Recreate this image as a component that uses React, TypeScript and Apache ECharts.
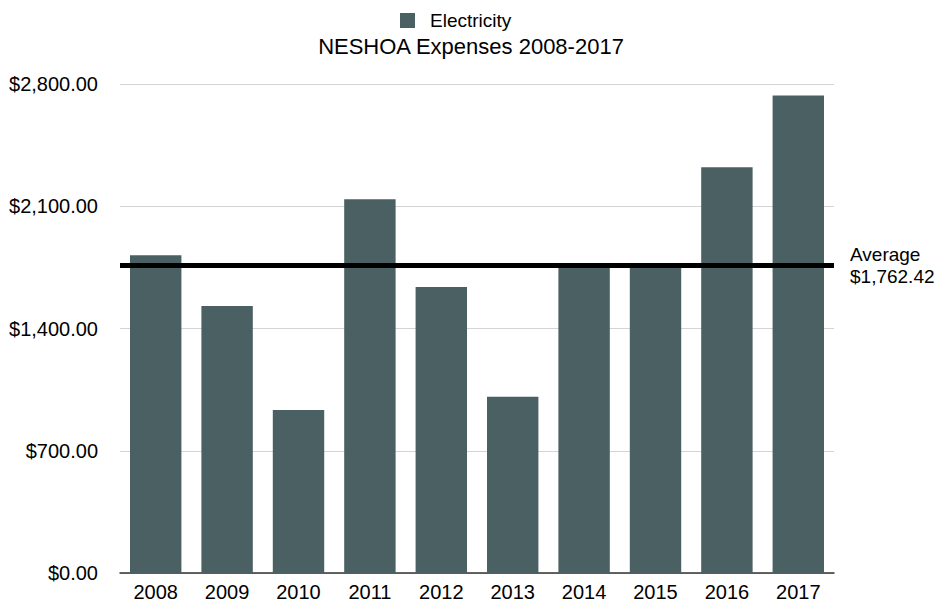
import React, { useEffect, useRef } from "react";
import * as echarts from "echarts";

const years = ["2008", "2009", "2010", "2011", "2012", "2013", "2014", "2015", "2016", "2017"];
const electricity = [1820, 1529, 934, 2140, 1637, 1009, 1750, 1748, 2323, 2734];
const averageValue = 1762.42;
const yTicks = { min: 0, max: 2800, interval: 700 };

const FONT = "'Liberation Sans', Arial, Helvetica, sans-serif";

function money(v: number): string {
  return "$" + v.toLocaleString("en-US", { minimumFractionDigits: 2, maximumFractionDigits: 2 });
}

export default function App() {
  const ref = useRef<HTMLDivElement>(null);
  useEffect(() => {
    if (!ref.current) return;
    const chart = echarts.init(ref.current, undefined, { renderer: "svg" });
    chart.setOption({
      animation: false,
      backgroundColor: "#ffffff",
      textStyle: { fontFamily: FONT },
      legend: {
        top: 6,
        left: 395,
        icon: "rect",
        itemWidth: 15,
        itemHeight: 15,
        itemGap: 10,
        textStyle: { fontSize: 19, color: "#000", fontFamily: FONT, padding: [0, 0, 0, 10] },
        data: ["Electricity"],
      },
      title: {
        text: "NESHOA Expenses 2008-2017",
        left: "center",
        top: 30,
        textStyle: { fontSize: 22, fontWeight: "normal", color: "#000", fontFamily: FONT },
      },
      grid: { left: 120, right: 108, top: 84, bottom: 34, containLabel: false },
      xAxis: {
        type: "category",
        data: years,
        axisLine: { show: true, lineStyle: { color: "#333", width: 1.5 } },
        axisTick: { show: false },
        axisLabel: { fontSize: 20, color: "#000", margin: 9, fontFamily: FONT },
      },
      yAxis: {
        type: "value",
        min: yTicks.min,
        max: yTicks.max,
        interval: yTicks.interval,
        axisLine: { show: false },
        axisTick: { show: false },
        splitLine: { lineStyle: { color: "#d4d4d4", width: 1 } },
        axisLabel: {
          fontSize: 20,
          color: "#000",
          margin: 22,
          fontFamily: FONT,
          formatter: (v: number) => money(v),
        },
      },
      series: [
        {
          name: "Electricity",
          type: "bar",
          data: electricity,
          barCategoryGap: "28%",
          itemStyle: { color: "#4a6063" },
          emphasis: { disabled: true },
          markLine: {
            silent: true,
            symbol: "none",
            z: 10,
            lineStyle: { color: "#000", width: 5, type: "solid" },
            label: {
              show: true,
              position: "end",
              distance: 16,
              fontSize: 19,
              lineHeight: 22,
              color: "#000",
              fontFamily: FONT,
              align: "left",
              formatter: () => "Average\n" + money(averageValue),
            },
            emphasis: { disabled: true },
            data: [{ yAxis: averageValue }],
          },
        },
      ],
    });
    return () => chart.dispose();
  }, []);
  return (
    <div
      ref={ref}
      style={{ position: "fixed", left: 0, top: 0, width: 942, height: 607, background: "#fff" }}
    />
  );
}
